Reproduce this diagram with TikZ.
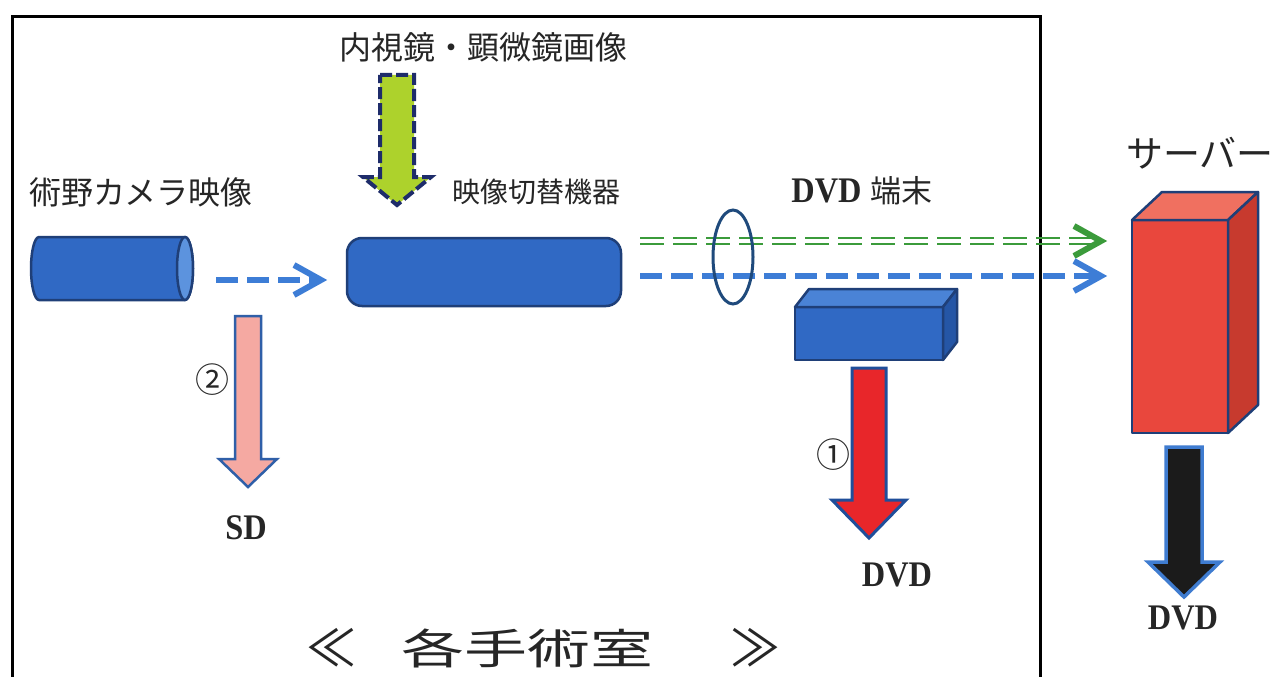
\documentclass[tikz,border=0pt]{standalone}
\usepackage{graphicx}
\usepackage{fontspec}
\setmainfont{Liberation Serif}
\newfontfamily\jp{Noto Sans CJK JP}
\usetikzlibrary{shapes.geometric,calc}
\definecolor{navy}{HTML}{1F3F78}
\definecolor{boxblue}{HTML}{3069C4}
\definecolor{capblue}{HTML}{5C93DE}
\definecolor{topblue}{HTML}{4A83D6}
\definecolor{sideblue}{HTML}{2556A6}
\definecolor{dashblue}{HTML}{3D7DD6}
\definecolor{lgreen}{HTML}{3B9B3B}
\definecolor{ygreen}{HTML}{ADD22C}
\definecolor{dnavy}{HTML}{1E2C6A}
\definecolor{pinkf}{HTML}{F5A9A2}
\definecolor{pinkline}{HTML}{2F5FA8}
\definecolor{redf}{HTML}{E8262A}
\definecolor{redline}{HTML}{1F4E9A}
\definecolor{srvfront}{HTML}{E9473D}
\definecolor{srvtop}{HTML}{F07060}
\definecolor{srvside}{HTML}{C73A2E}
\definecolor{blackf}{HTML}{1B1B1B}
\definecolor{blackline}{HTML}{3F7CD0}
\definecolor{ellcol}{HTML}{1F4A7C}
\newcommand\condensed[1]{\scalebox{0.9}[1]{#1}}
\begin{document}
\begin{tikzpicture}[x=1pt,y=1pt,
  jptext/.style={font=\jp\fontsize{32}{36}\selectfont, inner sep=0, text=black!85},
  lattext/.style={font=\bfseries\fontsize{36}{40}\selectfont, inner sep=0, text=black!85},
  solid3d/.style={draw=navy, line width=2.5pt, line join=round},
  bdash/.style={dashblue, line width=6pt, dash pattern=on 22pt off 9pt},
  gdash/.style={lgreen, line width=2.6pt, dash pattern=on 24pt off 9pt},
  chev/.style={line width=6pt, line join=miter, miter limit=10},
  blockarrow/.style={line width=3pt, line join=miter}]
\useasboundingbox (0,0) rectangle (1272,-677);
\fill[white] (0,0) rectangle (1272,-677);
% frame
\draw[black, line width=3pt] (12,-690) -- (12,-17) -- (1040,-17) -- (1040,-690);

% labels
\node[jptext] (ttl) at (483,-47) {内視鏡・顕微鏡画像};
\node[jptext] (camlbl) at (141,-192) {術野カメラ映像};
\node[jptext, font=\jp\fontsize{28}{32}\selectfont] (swlbl) at (536,-192) {映像切替機器};
\node[lattext] (dvdlbl) at (862,-191) {\condensed{DVD} {\jp\mdseries\fontsize{31}{34}\selectfont 端末}};
\node[jptext, font=\jp\fontsize{37}{40}\selectfont, anchor=west] (srvlbl) at (1126,-153) {サーバー};

% camera cylinder
\node[inner sep=0, outer sep=0, minimum width=162pt, minimum height=63pt] (cam) at (112,-268.5) {};
\draw[solid3d, fill=boxblue] (185,-237) arc (90:-90:8 and 31.5) -- (39,-300) arc (270:90:8 and 31.5) -- cycle;
\draw[solid3d, fill=capblue] (185,-268.5) ellipse (8 and 31.5);

% switcher
\node[solid3d, fill=boxblue, rounded corners=15pt, minimum width=274pt, minimum height=68pt, inner sep=0, outer sep=0] (sw) at (484,-272) {};

% DVD terminal box
\node[solid3d, fill=boxblue, minimum width=148pt, minimum height=53pt, inner sep=0, outer sep=0] (dvd) at (869,-333.5) {};
\draw[solid3d, fill=topblue] (dvd.north west) -- ++(14,18) -- ++(148,0) -- (dvd.north east) -- cycle;
\draw[solid3d, fill=sideblue] (dvd.north east) -- ++(14,18) -- ++(0,-53) -- (dvd.south east) -- cycle;

% server box
\node[solid3d, fill=srvfront, minimum width=96pt, minimum height=213pt, inner sep=0, outer sep=0] (srv) at (1180,-326.5) {};
\draw[solid3d, fill=srvtop] (srv.north west) -- ++(30,28) -- ++(96,0) -- (srv.north east) -- cycle;
\draw[solid3d, fill=srvside] (srv.north east) -- ++(30,28) -- ++(0,-213) -- (srv.south east) -- cycle;

% green input arrow
\draw[blockarrow, fill=ygreen, draw=dnavy, line width=4pt, dash pattern=on 12pt off 4pt]
  (380,-75) -- (414,-75) -- (414,-177) -- (431,-177) -- (397,-205) -- (363,-177) -- (380,-177) -- cycle;

% camera -> switcher
\coordinate (c1s) at (216,-280);
\coordinate (c1e) at (321,-280);
\draw[bdash] (c1s) -- ([xshift=-6pt]c1e);
\draw[chev, dashblue] ($(c1e)+(-27,15)$) -- (c1e) -- ($(c1e)+(-27,-15)$);

% switcher -> server (green double, blue)
\coordinate (gS) at (640,-241);
\coordinate (gE) at (1101,-241);
\draw[gdash] ([yshift=3pt]gS) -- ([yshift=3pt,xshift=-10pt]gE);
\draw[gdash] ([yshift=-3pt]gS) -- ([yshift=-3pt,xshift=-10pt]gE);
\draw[chev, lgreen] ($(gE)+(-27,15)$) -- (gE) -- ($(gE)+(-27,-15)$);
\coordinate (bS) at (640,-276);
\coordinate (bE) at (1101,-276);
\draw[bdash] (bS) -- ([xshift=-6pt]bE);
\draw[chev, dashblue] ($(bE)+(-27,15)$) -- (bE) -- ($(bE)+(-27,-15)$);

% bundle ellipse
\node[ellipse, draw=ellcol, line width=3pt, minimum width=40pt, minimum height=94pt, inner sep=0] (bundle) at (733,-257) {};

% pink arrow to SD
\draw[blockarrow, fill=pinkf, draw=pinkline, line width=2.5pt]
  (235,-316) -- (261,-316) -- (261,-459) -- (277,-459) -- (248,-487) -- (219,-459) -- (235,-459) -- cycle;
\node[jptext, font=\jp\fontsize{34}{38}\selectfont] (n2) at (212,-380) {②};
\node[lattext] (sd) at (246,-528) {\condensed{SD}};

% red arrow to DVD
\draw[blockarrow, fill=redf, draw=redline]
  ($(dvd.south)+(-17,-8)$) -- ++(34,0) -- ++(0,-132) -- ++(20,0) -- ++(-37,-38) -- ++(-37,38) -- ++(20,0) -- cycle;
\node[jptext, font=\jp\fontsize{34}{38}\selectfont] (n1) at (833,-455) {①};
\node[lattext] (dvd1) at (897,-575) {\condensed{DVD}};

% black arrow from server
\draw[blockarrow, fill=blackf, draw=blackline, line width=3.5pt]
  ($(srv.south)+(-14,-14)$) -- ++(36,0) -- ++(0,-115) -- ++(18,0) -- ++(-36,-35) -- ++(-36,35) -- ++(18,0) -- cycle;
\node[lattext] (dvd2) at (1183,-618) {\condensed{DVD}};

% room caption
\node[jptext, font=\jp\fontsize{50}{54}\selectfont] (ll) at (331,-648) {≪};
\node[jptext, font=\jp\fontsize{42}{46}\selectfont] (room) at (527,-648) {\scalebox{1.5}[1]{各手術室}};
\node[jptext, font=\jp\fontsize{50}{54}\selectfont] (rr) at (755,-648) {≫};
\end{tikzpicture}
\end{document}
